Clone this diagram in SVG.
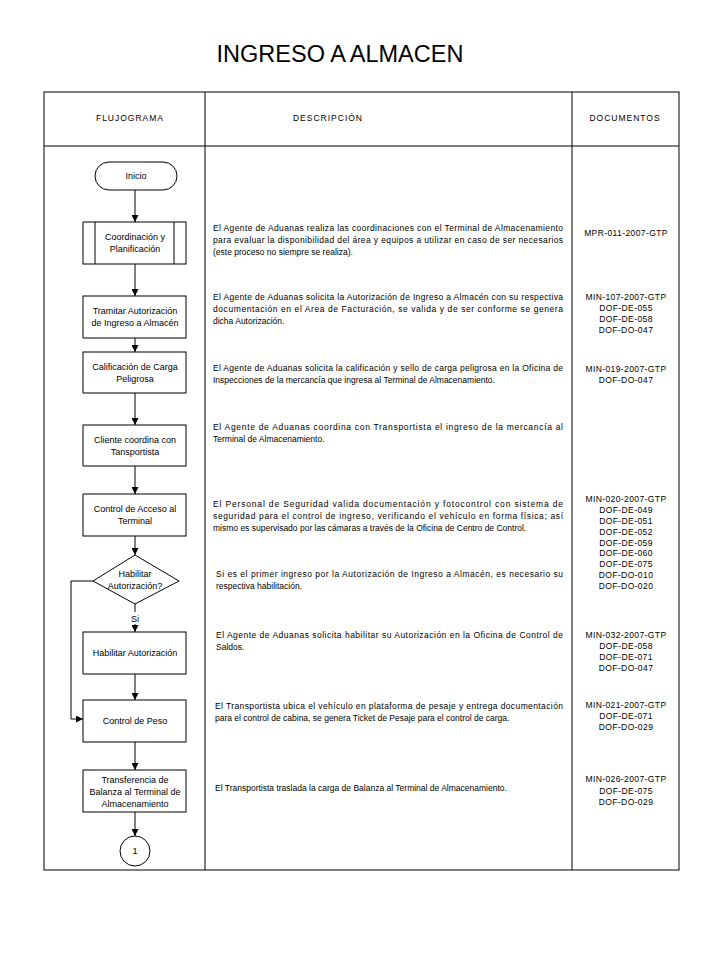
<svg xmlns="http://www.w3.org/2000/svg" width="720" height="960" viewBox="0 0 720 960">
<defs>
<marker id="ah" viewBox="0 0 10 10" refX="10" refY="5" markerWidth="7" markerHeight="7" markerUnits="userSpaceOnUse" orient="auto">
<path d="M0,0 L10,5 L0,10 z" fill="#000"/>
</marker>
<style>
.frame{fill:none;stroke:#000;stroke-width:1}
.box{fill:#fff;stroke:#000;stroke-width:1}
.nt{font-family:"Liberation Sans",Arial,sans-serif;font-size:9px;fill:#000;text-anchor:middle}
.hd{font-family:"Liberation Sans",Arial,sans-serif;font-size:8.5px;fill:#000;text-anchor:middle;letter-spacing:1px}
.ds{font-family:"Liberation Sans",Arial,sans-serif;font-size:8.5px;fill:#000}
.dc{font-family:"Liberation Sans",Arial,sans-serif;font-size:8.5px;fill:#000;text-anchor:middle;letter-spacing:0.4px}
.cn{fill:none;stroke:#000;stroke-width:1;marker-end:url(#ah)}
</style>
</defs>
<rect width="720" height="960" fill="#fff"/>
<text x="340" y="62" font-family="'Liberation Sans',Arial,sans-serif" font-size="23.5" text-anchor="middle">INGRESO A ALMACEN</text>

<g id="table">
<rect class="frame" x="44" y="92" width="635" height="778"/>
<line class="frame" x1="44" y1="146" x2="679" y2="146"/>
<line class="frame" x1="205" y1="92" x2="205" y2="870"/>
<line class="frame" x1="572" y1="92" x2="572" y2="870"/>
<text class="hd" x="130" y="121">FLUJOGRAMA</text>
<text class="hd" x="328" y="121">DESCRIPCIÓN</text>
<text class="hd" x="625" y="121">DOCUMENTOS</text>
</g>

<g id="connectors">
<line class="cn" x1="135" y1="190" x2="135" y2="222"/>
<line class="cn" x1="135" y1="264" x2="135" y2="296"/>
<line class="cn" x1="135" y1="338" x2="135" y2="352"/>
<line class="cn" x1="135" y1="393" x2="135" y2="425"/>
<line class="cn" x1="135" y1="466" x2="135" y2="494"/>
<line class="cn" x1="135" y1="536" x2="135" y2="555"/>
<line class="cn" x1="135" y1="604" x2="135" y2="632"/>
<line class="cn" x1="135" y1="674" x2="135" y2="700"/>
<line class="cn" x1="135" y1="742" x2="135" y2="770"/>
<line class="cn" x1="135" y1="812" x2="135" y2="836"/>
<polyline class="cn" points="93,581 71,581 71,719 83,719"/>
<rect x="129" y="612" width="12" height="12" fill="#fff"/>
<text class="nt" x="135" y="622">Si</text>
</g>

<g id="inicio">
<rect class="box" x="95" y="162" width="82" height="28" rx="14" ry="14"/>
<text class="nt" x="136" y="179">Inicio</text>
</g>
<g id="coordinacion">
<rect class="box" x="83" y="222" width="103" height="42"/>
<line class="frame" x1="95" y1="222" x2="95" y2="264"/>
<line class="frame" x1="174" y1="222" x2="174" y2="264"/>
<text class="nt" x="135" y="240">Coordinación y</text>
<text class="nt" x="135" y="252">Planificación</text>
</g>
<g id="tramitar">
<rect class="box" x="83" y="296" width="103" height="42"/>
<text class="nt" x="135" y="314">Tramitar Autorización</text>
<text class="nt" x="135" y="326">de Ingreso a Almacén</text>
</g>
<g id="calificacion">
<rect class="box" x="83" y="352" width="103" height="41"/>
<text class="nt" x="135" y="370">Calificación de Carga</text>
<text class="nt" x="135" y="382">Peligrosa</text>
</g>
<g id="cliente">
<rect class="box" x="83" y="425" width="103" height="41"/>
<text class="nt" x="135" y="443">Cliente coordina con</text>
<text class="nt" x="135" y="455">Tansportista</text>
</g>
<g id="acceso">
<rect class="box" x="83" y="494" width="103" height="42"/>
<text class="nt" x="135" y="512">Control de Acceso al</text>
<text class="nt" x="135" y="524">Terminal</text>
</g>
<g id="decision">
<polygon class="box" points="135,555 179,581 135,604 93,581"/>
<text class="nt" x="135" y="577">Habilitar</text>
<text class="nt" x="135" y="589">Autorización?</text>
</g>
<g id="habilitar">
<rect class="box" x="83" y="632" width="103" height="42"/>
<text class="nt" x="135" y="656">Habilitar Autorización</text>
</g>
<g id="peso">
<rect class="box" x="83" y="700" width="103" height="42"/>
<text class="nt" x="135" y="724">Control de Peso</text>
</g>
<g id="transferencia">
<rect class="box" x="83" y="770" width="103" height="42"/>
<text class="nt" x="135" y="783">Transferencia de</text>
<text class="nt" x="135" y="795">Balanza al Terminal de</text>
<text class="nt" x="135" y="807">Almacenamiento</text>
</g>
<g id="conector1">
<circle class="box" cx="135" cy="851" r="15"/>
<text class="nt" x="135" y="854">1</text>
</g>

<g id="descripciones">
<text class="ds" x="213" y="231" textLength="350" lengthAdjust="spacing">El Agente de Aduanas realiza las coordinaciones con el Terminal de Almacenamiento</text>
<text class="ds" x="213" y="243" textLength="350" lengthAdjust="spacing">para evaluar la disponibilidad del área  y equipos a utilizar en caso de ser necesarios</text>
<text class="ds" x="213" y="255">(este proceso no siempre se realiza).</text>

<text class="ds" x="213" y="300" textLength="350" lengthAdjust="spacing">El Agente de Aduanas solicita la Autorización de Ingreso a Almacén con su respectiva</text>
<text class="ds" x="213" y="312" textLength="350" lengthAdjust="spacing">documentación en el Area de Facturación, se valida y de ser conforme se genera</text>
<text class="ds" x="213" y="324">dicha Autorización.</text>

<text class="ds" x="213" y="371" textLength="350" lengthAdjust="spacing">El Agente de Aduanas solicita la calificación y sello de carga peligrosa en la Oficina de</text>
<text class="ds" x="213" y="383">Inspecciones de la mercancía que ingresa al Terminal de Almacenamiento.</text>

<text class="ds" x="213" y="430" textLength="350" lengthAdjust="spacing">El Agente de Aduanas coordina con Transportista el ingreso de la mercancía al</text>
<text class="ds" x="213" y="442">Terminal de Almacenamiento.</text>

<text class="ds" x="213" y="507" textLength="350" lengthAdjust="spacing">El Personal de Seguridad valida documentación y fotocontrol con sistema de</text>
<text class="ds" x="213" y="519" textLength="350" lengthAdjust="spacing">seguridad para el control de ingreso, verificando el vehículo en forma física; así</text>
<text class="ds" x="213" y="531">mismo es supervisado por las cámaras a través de la Oficina de Centro de Control.</text>

<text class="ds" x="216" y="577" textLength="347" lengthAdjust="spacing">Si es el primer ingreso por la Autorización de Ingreso a Almacén, es necesario su</text>
<text class="ds" x="216" y="589">respectiva habilitación.</text>

<text class="ds" x="216" y="638" textLength="347" lengthAdjust="spacing">El Agente de Aduanas solicita habilitar su Autorización  en la Oficina  de Control de</text>
<text class="ds" x="216" y="650">Saldos.</text>

<text class="ds" x="215" y="709" textLength="348" lengthAdjust="spacing">El Transportista ubica el  vehículo en plataforma de pesaje y entrega documentación</text>
<text class="ds" x="215" y="721">para el control de cabina, se genera Ticket de Pesaje para el control de carga.</text>

<text class="ds" x="215" y="791">El Transportista traslada la carga de Balanza al Terminal de Almacenamiento.</text>
</g>

<g id="documentos">
<text class="dc" x="626" y="236">MPR-011-2007-GTP</text>

<text class="dc" x="626" y="300">MIN-107-2007-GTP</text>
<text class="dc" x="626" y="311">DOF-DE-055</text>
<text class="dc" x="626" y="322">DOF-DE-058</text>
<text class="dc" x="626" y="333">DOF-DO-047</text>

<text class="dc" x="626" y="372">MIN-019-2007-GTP</text>
<text class="dc" x="626" y="383">DOF-DO-047</text>

<text class="dc" x="626" y="502">MIN-020-2007-GTP</text>
<text class="dc" x="626" y="513">DOF-DE-049</text>
<text class="dc" x="626" y="524">DOF-DE-051</text>
<text class="dc" x="626" y="535">DOF-DE-052</text>
<text class="dc" x="626" y="546">DOF-DE-059</text>
<text class="dc" x="626" y="556">DOF-DE-060</text>
<text class="dc" x="626" y="567">DOF-DE-075</text>
<text class="dc" x="626" y="578">DOF-DO-010</text>
<text class="dc" x="626" y="589">DOF-DO-020</text>

<text class="dc" x="626" y="638">MIN-032-2007-GTP</text>
<text class="dc" x="626" y="649">DOF-DE-058</text>
<text class="dc" x="626" y="660">DOF-DE-071</text>
<text class="dc" x="626" y="671">DOF-DO-047</text>

<text class="dc" x="626" y="708">MIN-021-2007-GTP</text>
<text class="dc" x="626" y="719">DOF-DE-071</text>
<text class="dc" x="626" y="730">DOF-DO-029</text>

<text class="dc" x="626" y="782">MIN-026-2007-GTP</text>
<text class="dc" x="626" y="794">DOF-DE-075</text>
<text class="dc" x="626" y="805">DOF-DO-029</text>
</g>
</svg>
